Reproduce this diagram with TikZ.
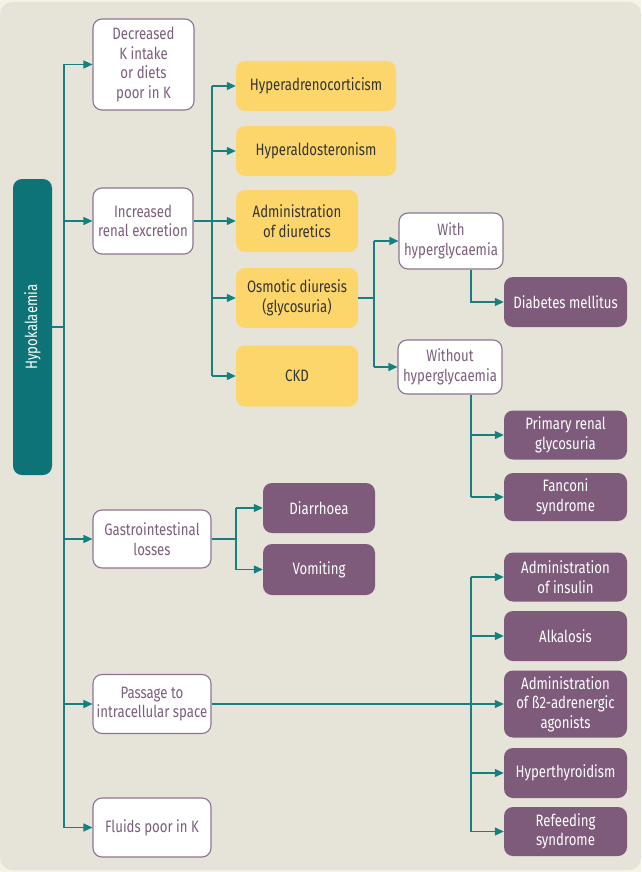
\documentclass[tikz,border=0pt]{standalone}
\usepackage{fontspec}
\setmainfont{Fira Sans}[FakeStretch=0.8]
\usetikzlibrary{arrows.meta}
\definecolor{bgout}{HTML}{F6F2E4}
\definecolor{bgin}{HTML}{E6E4D9}
\definecolor{teal}{HTML}{167F80}
\definecolor{tealbox}{HTML}{0D7377}
\definecolor{purp}{HTML}{7E5A7B}
\definecolor{purpline}{HTML}{8E7290}
\definecolor{purptext}{HTML}{7B5E7B}
\definecolor{yel}{HTML}{FDD66B}
\definecolor{darktext}{HTML}{333333}
\tikzset{
  base/.style={rounded corners=9pt, align=center, inner sep=1pt,
    font=\fontsize{16.5}{19.5}\selectfont},
  wbox/.style={base, draw=purpline, line width=1.1pt, fill=white, text=purptext},
  ybox/.style={base, fill=yel, text=darktext},
  pbox/.style={base, fill=purp, text=white},
  conn/.style={draw=teal, line width=1.2pt},
  arr/.style={conn, -{Triangle[length=9pt,width=8pt]}},
}
\begin{document}
\begin{tikzpicture}[x=1pt,y=-1pt]
\useasboundingbox (0,0) rectangle (641,872);
\fill[bgout] (0,0) rectangle (641,872);
\fill[bgin, rounded corners=12pt] (0,2) rectangle (641,870);

% nodes
\node[base, fill=tealbox, minimum width=39pt, minimum height=296pt] (hypo) at (32.5,327) {};
\node[rotate=90, text=white, font=\fontsize{16.5}{19.5}\selectfont] (hypot) at (hypo.center) {Hypokalaemia};

\node[wbox, minimum width=101pt, minimum height=91pt] (dec) at (143.5,64.5) {Decreased\\K intake\\or diets\\poor in K};
\node[wbox, minimum width=100pt, minimum height=66pt] (ren) at (143,221) {Increased\\renal excretion};
\node[wbox, minimum width=118pt, minimum height=58pt] (gi) at (152,539) {Gastrointestinal\\losses};
\node[wbox, minimum width=118pt, minimum height=59pt] (pas) at (152,704) {Passage to\\intracellular space};
\node[wbox, minimum width=118pt, minimum height=59pt] (flu) at (152,827.5) {Fluids poor in K};

\node[ybox, minimum width=160pt, minimum height=50pt] (hadr) at (316,86) {Hyperadrenocorticism};
\node[ybox, minimum width=160pt, minimum height=50pt] (hald) at (316,151) {Hyperaldosteronism};
\node[ybox, minimum width=122pt, minimum height=62pt] (adm) at (297,221) {Administration\\of diuretics};
\node[ybox, minimum width=122pt, minimum height=60pt] (osm) at (297,298) {Osmotic diuresis\\(glycosuria)};
\node[ybox, minimum width=122pt, minimum height=61pt] (ckd) at (297,376) {CKD};

\node[wbox, minimum width=104pt, minimum height=56pt] (with) at (451,241) {With\\hyperglycaemia};
\node[wbox, minimum width=104pt, minimum height=54pt] (without) at (450,367) {Without\\hyperglycaemia};

\node[pbox, minimum width=123pt, minimum height=50pt] (dm) at (565.5,302) {Diabetes mellitus};
\node[pbox, minimum width=123pt, minimum height=49pt] (prg) at (565.5,435) {Primary renal\\glycosuria};
\node[pbox, minimum width=123pt, minimum height=48pt] (fan) at (565.5,497) {Fanconi\\syndrome};

\node[pbox, minimum width=112pt, minimum height=50pt] (dia) at (319,508) {Diarrhoea};
\node[pbox, minimum width=112pt, minimum height=51pt] (vom) at (319,569.5) {Vomiting};

\node[pbox, minimum width=123pt, minimum height=49pt] (ins) at (565.5,577) {Administration\\of insulin};
\node[pbox, minimum width=123pt, minimum height=50pt] (alk) at (565.5,636) {Alkalosis};
\node[pbox, minimum width=123pt, minimum height=67pt] (b2) at (565.5,704) {Administration\\of ß2-adrenergic\\agonists};
\node[pbox, minimum width=123pt, minimum height=50pt] (thy) at (565.5,773) {Hyperthyroidism};
\node[pbox, minimum width=123pt, minimum height=49pt] (ref) at (565.5,831.5) {Refeeding\\syndrome};

% trunk coordinates
\coordinate (t1) at (64,0);
\coordinate (t2) at (212,0);
\coordinate (t3) at (374,0);
\coordinate (t4) at (471,0);
\coordinate (t5) at (236,0);

% main trunk
\draw[conn] (hypo.east) -- (hypo.east -| t1);
\draw[conn] (dec.west -| t1) -- (flu.west -| t1);
\foreach \n in {dec,ren,gi,pas,flu}{\draw[arr] (\n.west -| t1) -- (\n.west);}

% renal
\draw[conn] (ren.east) -- (ren.east -| t2);
\draw[conn] (hadr.west -| t2) -- (ckd.west -| t2);
\foreach \n in {hadr,hald,adm,osm,ckd}{\draw[arr] (\n.west -| t2) -- (\n.west);}

% osmotic
\draw[conn] (osm.east) -- (osm.east -| t3);
\draw[conn] (with.west -| t3) -- (without.west -| t3);
\foreach \n in {with,without}{\draw[arr] (\n.west -| t3) -- (\n.west);}

% with / without
\draw[arr] (with.south -| t4) |- (dm.west);
\draw[conn] (without.south -| t4) -- (fan.west -| t4);
\foreach \n in {prg,fan}{\draw[arr] (\n.west -| t4) -- (\n.west);}

% GI
\draw[conn] (gi.east) -- (gi.east -| t5);
\draw[conn] (dia.west -| t5) -- (vom.west -| t5);
\foreach \n in {dia,vom}{\draw[arr] (\n.west -| t5) -- (\n.west);}

% passage
\draw[arr] (pas.east) -- (b2.west);
\draw[conn] (ins.west -| t4) -- (ref.west -| t4);
\foreach \n in {ins,alk,thy,ref}{\draw[arr] (\n.west -| t4) -- (\n.west);}
\end{tikzpicture}
\end{document}
